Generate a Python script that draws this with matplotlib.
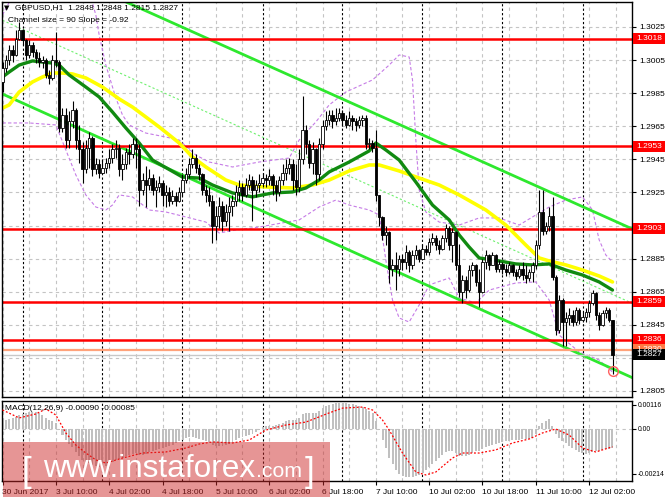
import numpy as np
import matplotlib
matplotlib.use("Agg")
import matplotlib.pyplot as plt
from matplotlib.patches import Rectangle
import matplotlib.transforms as mtransforms

# ---------------- data ----------------
first_open = 1.2992
close = [1.3000, 1.3005, 1.3011, 1.3008, 1.3018, 1.3023, 1.3017, 1.3008, 1.3014, 1.3010,
         1.3006, 1.3004, 1.3005, 1.2996, 1.2994, 1.3005, 1.3004, 1.2964, 1.2972, 1.2957,
         1.2968, 1.2975, 1.2957, 1.2951, 1.2939, 1.2952, 1.2958, 1.2939, 1.2942, 1.2937,
         1.2940, 1.2943, 1.2946, 1.2951, 1.2952, 1.2939, 1.2942, 1.29495, 1.2948, 1.2954,
         1.2951, 1.29265, 1.29325, 1.29295, 1.2934, 1.29265, 1.2928, 1.2931, 1.29235, 1.2925,
         1.2920, 1.2923, 1.2920, 1.2925, 1.29325, 1.2936, 1.2942, 1.2946, 1.2940, 1.2936,
         1.29265, 1.29235, 1.2920, 1.2905, 1.2911, 1.2917, 1.2908, 1.2913, 1.2917, 1.2920,
         1.2925, 1.2928, 1.29235, 1.29295, 1.29325, 1.29265, 1.29295, 1.2931, 1.2934, 1.29325,
         1.2935, 1.29295, 1.2925, 1.29325, 1.2937, 1.2940, 1.2942, 1.29325, 1.2928, 1.2945,
         1.2963, 1.2954, 1.2943, 1.2951, 1.2936, 1.2954, 1.2965, 1.2969, 1.2972, 1.2968,
         1.2970, 1.2973, 1.2969, 1.2966, 1.2970, 1.2968, 1.2966, 1.2969, 1.2970, 1.2954,
         1.2955, 1.2952, 1.29235, 1.2910, 1.2899, 1.2901, 1.2879, 1.2881, 1.2879, 1.2885,
         1.2883, 1.2889, 1.2881, 1.2887, 1.2890, 1.2885, 1.2891, 1.2889, 1.2895, 1.28975,
         1.2893, 1.2891, 1.28975, 1.29035, 1.2893, 1.2901, 1.2881, 1.2865, 1.2872, 1.2866,
         1.2878, 1.2881, 1.2871, 1.2865, 1.2883, 1.2887, 1.2881, 1.2887, 1.2879, 1.2882,
         1.2879, 1.2877, 1.2881, 1.2877, 1.28745, 1.2879, 1.2875, 1.2873, 1.2877, 1.2881,
         1.2893, 1.2913, 1.2902, 1.2905, 1.2911, 1.2874, 1.2842, 1.2860, 1.2847, 1.2849,
         1.2851, 1.2847, 1.2854, 1.2848, 1.2850, 1.2853, 1.2858, 1.2864, 1.2851, 1.2845,
         1.2852, 1.2854, 1.2848, 1.2827]
high = [1.3004, 1.3008, 1.3014, 1.3014, 1.3023, 1.3028, 1.3024, 1.3018, 1.3017, 1.3016,
        1.3012, 1.3010, 1.30075, 1.3006, 1.2999, 1.3008, 1.3022, 1.3005, 1.2976, 1.2976,
        1.2974, 1.2980, 1.2976, 1.2966, 1.29555, 1.2957, 1.29615, 1.2959, 1.2946, 1.2945,
        1.2945, 1.2946, 1.2951, 1.2954, 1.2957, 1.2954, 1.2948, 1.2952, 1.2954, 1.2958,
        1.2958, 1.2954, 1.2937, 1.2941, 1.2939, 1.2936, 1.29325, 1.2935, 1.29325, 1.29295,
        1.2928, 1.29265, 1.2925, 1.2928, 1.2936, 1.2940, 1.2946, 1.2951, 1.2948, 1.2942,
        1.2937, 1.29295, 1.2928, 1.29235, 1.2917, 1.2922, 1.2920, 1.2918, 1.2922, 1.29235,
        1.29295, 1.29325, 1.2931, 1.2934, 1.2936, 1.2935, 1.29325, 1.2936, 1.2937, 1.2936,
        1.2939, 1.2936, 1.29325, 1.2935, 1.2942, 1.2945, 1.2946, 1.2945, 1.2942, 1.2951,
        1.2983, 1.2966, 1.2957, 1.29555, 1.2952, 1.2958, 1.2969, 1.2974, 1.2975, 1.2975,
        1.2976, 1.2976, 1.2975, 1.2972, 1.2974, 1.2972, 1.2970, 1.2971, 1.2972, 1.2972,
        1.2958, 1.2957, 1.2963, 1.29235, 1.2911, 1.2905, 1.2902, 1.2885, 1.2889, 1.2887,
        1.2888, 1.2893, 1.2890, 1.2890, 1.2893, 1.2891, 1.2894, 1.2893, 1.28975, 1.29005,
        1.2899, 1.2896, 1.2899, 1.2906, 1.2905, 1.29035, 1.2902, 1.2894, 1.2875, 1.28745,
        1.2881, 1.2883, 1.2882, 1.2879, 1.2885, 1.2890, 1.2888, 1.2889, 1.2888, 1.2884,
        1.2883, 1.2882, 1.2883, 1.2882, 1.2879, 1.2881, 1.2883, 1.2881, 1.2879, 1.2883,
        1.2896, 1.29265, 1.29265, 1.2907, 1.2916, 1.2922, 1.2875, 1.2863, 1.2861, 1.2853,
        1.2855, 1.2854, 1.2856, 1.2855, 1.2853, 1.2855, 1.2860, 1.2866, 1.2865, 1.2853,
        1.2854, 1.2856, 1.2855, 1.2848]
low = [1.2986, 1.2998, 1.3002, 1.3004, 1.30075, 1.3017, 1.3014, 1.3005, 1.3006, 1.3007,
       1.3003, 1.3001, 1.3000, 1.2994, 1.29905, 1.2993, 1.3001, 1.29615, 1.29615, 1.2952,
       1.2952, 1.2964, 1.2951, 1.2943, 1.2931, 1.2937, 1.2940, 1.2935, 1.2936, 1.2934,
       1.2936, 1.2937, 1.2940, 1.2943, 1.2946, 1.2935, 1.29325, 1.2939, 1.2942, 1.2946,
       1.2940, 1.2917, 1.29235, 1.2916, 1.29265, 1.29235, 1.2916, 1.2925, 1.2917, 1.2916,
       1.2917, 1.2918, 1.2917, 1.2919, 1.2923, 1.2931, 1.2934, 1.2940, 1.2937, 1.29325,
       1.29235, 1.2919, 1.2917, 1.28945, 1.2896, 1.29035, 1.2902, 1.2905, 1.2902, 1.2911,
       1.2917, 1.2920, 1.2920, 1.2922, 1.29265, 1.2908, 1.2922, 1.2925, 1.2928, 1.2928,
       1.29295, 1.29235, 1.2920, 1.2923, 1.29295, 1.29325, 1.2936, 1.29265, 1.29235, 1.2925,
       1.2942, 1.2948, 1.2940, 1.2936, 1.29295, 1.29325, 1.2951, 1.2963, 1.2966, 1.2964,
       1.2966, 1.2968, 1.2965, 1.2964, 1.2965, 1.2963, 1.2962, 1.2964, 1.2965, 1.2951,
       1.2951, 1.29495, 1.2920, 1.2905, 1.2896, 1.2893, 1.2870, 1.28745, 1.2866, 1.28745,
       1.2878, 1.2879, 1.2877, 1.2879, 1.2885, 1.2883, 1.2884, 1.2887, 1.2887, 1.2893,
       1.2890, 1.2888, 1.2890, 1.2895, 1.2890, 1.2883, 1.2878, 1.2862, 1.2858, 1.2861,
       1.2865, 1.28745, 1.28685, 1.2856, 1.2864, 1.2879, 1.2878, 1.2881, 1.2877, 1.2877,
       1.2876, 1.28745, 1.2876, 1.28745, 1.2872, 1.2873, 1.2872, 1.2870, 1.28715, 1.2871,
       1.2879, 1.2891, 1.2899, 1.2900, 1.2902, 1.2872, 1.2839, 1.2840, 1.2832, 1.2832,
       1.2845, 1.2844, 1.2845, 1.28455, 1.2847, 1.2847, 1.2850, 1.2857, 1.2848, 1.2842,
       1.2844, 1.2849, 1.2847, 1.2815]

# moving averages, sampled along the bars
ma_green_bars = [0, 2, 5, 9, 12, 15, 17, 20, 25, 29, 33, 37, 41, 45, 54, 59, 63, 69, 75, 81, 87,
                 91, 95, 98, 104, 110, 112, 115, 119, 124, 129, 134, 137, 140, 143, 149, 154,
                 159, 164, 169, 174, 179, 183]
ma_green = [1.29948, 1.29978, 1.3002, 1.30045, 1.30038, 1.30032, 1.3002, 1.2996, 1.29887,
            1.29827, 1.29736, 1.2964, 1.29549, 1.29446, 1.29343, 1.29337, 1.29295, 1.29247,
            1.29223, 1.29247, 1.29253, 1.29277, 1.29325, 1.29374, 1.29434, 1.29501, 1.29549,
            1.29507, 1.29446, 1.29313, 1.29174, 1.29084, 1.28993, 1.2892, 1.28854, 1.28836,
            1.28818, 1.28812, 1.28818, 1.28781, 1.28751, 1.28709, 1.2866]
ma_yellow_bars = [0, 2, 5, 9, 12, 15, 18, 21, 25, 30, 35, 39, 43, 47, 53, 57, 61, 67, 71, 79,
                  87, 93, 98, 104, 110, 113, 119, 125, 131, 137, 145, 151, 157, 161, 164,
                  169, 174, 179, 183]
ma_yellow = [1.2976, 1.29779, 1.29857, 1.29918, 1.29948, 1.29972, 1.29972, 1.29966, 1.29942,
             1.29887, 1.29815, 1.29766, 1.29706, 1.29646, 1.29549, 1.29464, 1.29404, 1.29325,
             1.29295, 1.29283, 1.29277, 1.29295, 1.29325, 1.2938, 1.29416, 1.29416, 1.2938,
             1.29337, 1.29295, 1.29235, 1.29144, 1.29053, 1.28932, 1.28854, 1.28836, 1.28812,
             1.28781, 1.28745, 1.28709]

# envelope bands (dashed violet)
band_up_bars = [0, 4, 8, 17, 25, 28, 29, 31, 34, 36, 38, 43, 49, 53, 58, 62, 69, 77, 86, 89,
                94, 98, 103, 111, 116, 119, 122, 123, 124, 125, 127, 131, 137, 143, 149, 155,
                160, 164, 169, 174, 177, 179, 181, 183]
band_up = [1.30323, 1.30474, 1.30595, 1.30655, 1.30534, 1.30323, 1.30202, 1.3002, 1.29821,
           1.29718, 1.29658, 1.29609, 1.29585, 1.29567, 1.29476, 1.29434, 1.29404, 1.29434,
           1.29458, 1.29567, 1.29676, 1.29779, 1.29857, 1.2993, 1.3002, 1.30081, 1.30069,
           1.2993, 1.29567, 1.29265, 1.29132, 1.29071, 1.29053, 1.29096, 1.29096, 1.29053,
           1.29114, 1.29162, 1.29204, 1.29223, 1.29144, 1.28963, 1.28872, 1.2883]
band_lo_bars = [0, 8, 16, 19, 22, 25, 28, 31, 33, 35, 39, 44, 49, 55, 61, 65, 70, 77, 89, 95,
                100, 104, 110, 113, 115, 117, 119, 122, 125, 128, 134, 137, 142, 146, 154,
                160, 164, 167, 173, 179, 183]
band_lo = [1.2967, 1.2967, 1.29658, 1.29507, 1.29356, 1.29235, 1.29162, 1.29144, 1.29174,
           1.29235, 1.29223, 1.29144, 1.29132, 1.29102, 1.29071, 1.29005, 1.29023, 1.29041,
           1.29084, 1.29162, 1.29204, 1.29174, 1.29144, 1.29114, 1.28842, 1.2860, 1.28491,
           1.28467, 1.2857, 1.28691, 1.28733, 1.28612, 1.28582, 1.2866, 1.28703, 1.28709,
           1.2860, 1.28388, 1.28286, 1.28237, 1.28165]

# regression channel (two anchor bars)
channel_bars = [0, 189]
channel_upper = [1.30736, 1.29029]
channel_lower = [1.29845, 1.28130]

levels_red = [1.3018, 1.2953, 1.2903, 1.2859, 1.2836]
level_orange = 1.2830
last_price = 1.2827
price_ticks = [1.3025, 1.3005, 1.2985, 1.2965, 1.2945, 1.2925, 1.2905, 1.2885, 1.2865, 1.2845,
               1.2825, 1.2805]
hidden_price_ticks = [1.2905, 1.2825]   # covered by the price boxes in the original

macd_hist = [0.00038, 0.00043, 0.00048, 0.00053, 0.00057, 0.00067, 0.00072, 0.00077, 0.00081, 0.00081,
             0.00081, 0.00077, 0.00067, 0.00053, 0.00043, 0.00038, 0.00029, -0.00005, -0.00029, -0.00053,
             -0.00072, -0.00086, -0.00110, -0.00129, -0.00148, -0.00158, -0.00163, -0.00172, -0.00177, -0.00182,
             -0.00182, -0.00177, -0.00172, -0.00158, -0.00148, -0.00144, -0.00139, -0.00129, -0.00124, -0.00120,
             -0.00115, -0.00124, -0.00124, -0.00120, -0.00110, -0.00105, -0.00100, -0.00096, -0.00091, -0.00086,
             -0.00081, -0.00077, -0.00067, -0.00057, -0.00053, -0.00043, -0.00038, -0.00038, -0.00043, -0.00048,
             -0.00053, -0.00057, -0.00062, -0.00077, -0.00081, -0.00081, -0.00081, -0.00077, -0.00072, -0.00062,
             -0.00053, -0.00043, -0.00038, -0.00033, -0.00029, -0.00024, -0.00014, -0.00003, 0.00010, 0.00014,
             0.00014, 0.00014, 0.00019, 0.00024, 0.00029, 0.00038, 0.00043, 0.00043, 0.00043, 0.00053,
             0.00072, 0.00077, 0.00077, 0.00077, 0.00077, 0.00086, 0.00100, 0.00110, 0.00115, 0.00120,
             0.00124, 0.00124, 0.00124, 0.00124, 0.00120, 0.00120, 0.00115, 0.00110, 0.00105, 0.00096,
             0.00086, 0.00077, 0.00038, -0.00005, -0.00053, -0.00091, -0.00139, -0.00167, -0.00196, -0.00215,
             -0.00225, -0.00230, -0.00230, -0.00230, -0.00225, -0.00220, -0.00211, -0.00196, -0.00182, -0.00167,
             -0.00153, -0.00139, -0.00124, -0.00110, -0.00105, -0.00105, -0.00115, -0.00129, -0.00129, -0.00129,
             -0.00124, -0.00115, -0.00105, -0.00105, -0.00096, -0.00086, -0.00081, -0.00077, -0.00072, -0.00067,
             -0.00062, -0.00057, -0.00057, -0.00053, -0.00053, -0.00053, -0.00048, -0.00048, -0.00048, -0.00043,
             -0.00024, 0.00014, 0.00029, 0.00038, 0.00048, 0.00014, -0.00024, -0.00043, -0.00057, -0.00067,
             -0.00081, -0.00091, -0.00100, -0.00110, -0.00115, -0.00120, -0.00115, -0.00110, -0.00105, -0.00105,
             -0.00100, -0.00096, -0.00096, -0.00090]
signal_bars = [0, 5, 10, 13, 16, 19, 22, 25, 28, 31, 36, 42, 49, 55, 59, 63, 69, 74, 79, 85, 91,
               98, 102, 108, 111, 114, 116, 120, 124, 127, 130, 135, 138, 143, 148, 153, 158,
               162, 166, 170, 174, 178, 183]
signal = [0.00091, 0.00053, 0.00072, 0.00096, 0.00067, -0.00019, -0.00077, -0.00115, -0.00148,
          -0.00163, -0.00139, -0.00115, -0.00110, -0.00091, -0.00072, -0.00062, -0.00067, -0.00053,
          -0.00005, 0.00019, 0.00033, 0.00077, 0.00100, 0.00105, 0.00091, 0.00043, -0.00005,
          -0.00115, -0.00206, -0.00220, -0.00206, -0.00139, -0.00115, -0.00115, -0.00100, -0.00067,
          -0.00048, -0.00019, 0.0, -0.00029, -0.00091, -0.00110, -0.00085]
macd_ticks = [0.00116, 0.0, -0.00214]
macd_tick_labels = ["0.00116", "0.00", "-0.00214"]

time_label_bars = [0, 16, 32, 48, 64, 80, 96, 112, 128, 144, 160, 176]
time_labels = ["30 Jun 2017", "3 Jul 10:00", "4 Jul 02:00", "4 Jul 18:00", "5 Jul 10:00",
               "6 Jul 02:00", "6 Jul 18:00", "7 Jul 10:00", "10 Jul 02:00", "10 Jul 18:00",
               "11 Jul 10:00", "12 Jul 02:00"]
day_start_bars = [6, 30, 54, 78, 102, 126, 150, 174]
grid_step_bars = 8

# ---------------- figure ----------------
W, H = 665, 499
fig = plt.figure(figsize=(W / 100, H / 100), dpi=100)
fig.patch.set_facecolor("white")
FONT = ["Liberation Sans", "DejaVu Sans"]
plt.rcParams["font.family"] = FONT


def fx(px):
    return px / W


def fy(py):
    return 1 - py / H


ax = fig.add_axes([fx(2), fy(397), fx(632) - fx(2), fy(2) - fy(397)])
axm = fig.add_axes([fx(2), fy(481), fx(632) - fx(2), fy(401) - fy(481)])

XMIN, XMAX = -0.15, 188.85
for a in (ax, axm):
    a.set_xlim(XMIN, XMAX)
    for s in a.spines.values():
        s.set_color("black")
        s.set_linewidth(1.0)
ax.set_ylim(1.280137, 1.304011)
axm.set_ylim(-0.00249, 0.00134)

grid_kw = dict(color="#c4c4c4", lw=0.8, dashes=(3, 3), zorder=0.5)
sep_kw = dict(color="black", lw=0.8, dashes=(2, 2), zorder=0.6)
for b in range(0, 190, grid_step_bars):
    ax.axvline(b, **grid_kw)
    axm.axvline(b, **grid_kw)
for b in day_start_bars:
    ax.axvline(b, **sep_kw)
    axm.axvline(b, **sep_kw)
for p in price_ticks:
    ax.axhline(p, **grid_kw)
axm.axhline(0.0, **grid_kw)

# bands
band_kw = dict(color="#c57be6", lw=0.8, dashes=(3, 2), zorder=1)
ax.plot(band_up_bars, band_up, **band_kw)
ax.plot(band_lo_bars, band_lo, **band_kw)

# channel
ax.plot(channel_bars, channel_upper, color="#2ee82e", lw=2.0, zorder=2)
ax.plot(channel_bars, channel_lower, color="#2ee82e", lw=2.0, zorder=2)
mid = [(u + l) / 2 for u, l in zip(channel_upper, channel_lower)]
ax.plot(channel_bars, mid, color="#6ef06e", lw=0.8, dashes=(2, 2), zorder=2)

# horizontal levels
for lv in levels_red:
    ax.axhline(lv, color="#ff0000", lw=1.8, zorder=2.2)
ax.axhline(level_orange, color="#ffa27a", lw=1.6, zorder=2.2)
ax.axhline(last_price, color="#c8c8c8", lw=1.0, zorder=2.2)

# moving averages
ax.plot(ma_yellow_bars, ma_yellow, color="#ffff00", lw=2.6, zorder=2.5, solid_capstyle="round")
ax.plot(ma_green_bars, ma_green, color="#118a11", lw=2.4, zorder=2.6, solid_capstyle="round")

# candles
c = np.array(close)
hi = np.array(high)
lo = np.array(low)
o = np.r_[first_open, c[:-1]]
idx = np.arange(len(c))
up = c >= o
ax.vlines(idx, lo, hi, color="black", lw=0.8, zorder=3)
bot = np.minimum(o, c)
hgt = np.maximum(np.abs(c - o), 0.00004)
ax.bar(idx[up], hgt[up], bottom=bot[up], width=0.72, facecolor="white",
       edgecolor="black", linewidth=0.6, zorder=4)
ax.bar(idx[~up], hgt[~up], bottom=bot[~up], width=0.72, facecolor="black",
       edgecolor="black", linewidth=0.6, zorder=4)
ax.plot([idx[-1]], [lo[-1] + 0.0002], marker="o", ms=7, mfc="none", mec="#ff6060",
        mew=1.0, zorder=5)

# axes ticks
ax.set_xticks([])
ax.yaxis.tick_right()
ax.set_yticks(price_ticks)
ax.set_yticklabels(["" if p in hidden_price_ticks else f"{p:.4f}" for p in price_ticks])
ax.tick_params(axis="y", direction="out", length=3, width=0.8, pad=2, labelsize=6)

axm.yaxis.tick_right()
axm.set_yticks(macd_ticks)
axm.set_yticklabels(macd_tick_labels)
axm.tick_params(axis="y", direction="out", length=3, width=0.8, pad=1.0, labelsize=4.9)
axm.set_xticks(time_label_bars)
axm.set_xticklabels(time_labels, ha="left")
axm.tick_params(axis="x", direction="out", length=3, width=0.8, pad=3, labelsize=6)

# MACD
axm.bar(np.arange(len(macd_hist)), macd_hist, width=0.6, color="#c0c0c0", zorder=2)
axm.plot(signal_bars, signal, color="#ff0000", lw=0.9, dashes=(1.5, 1.5), zorder=3)

# price label boxes on the right scale
tr = mtransforms.blended_transform_factory(fig.transFigure, ax.transData)
box_h = 11 / 16545.0


def price_box(level, face, text_color="white"):
    ax.add_patch(Rectangle((fx(633), level - box_h / 2), fx(665) - fx(633), box_h,
                           transform=tr, facecolor=face, edgecolor="none",
                           clip_on=False, zorder=6))
    ax.text(fx(636), level, f"{level:.4f}", transform=tr, ha="left", va="center",
            fontsize=6, color=text_color, clip_on=False, zorder=7)


for lv in levels_red:
    price_box(lv, "#ff0000")
price_box(level_orange, "#ff7a45")
price_box(last_price, "black")

# header texts
fig.text(fx(4), fy(8), "\u25BC", fontsize=5, va="center", ha="left", family="DejaVu Sans")
fig.text(fx(15), fy(8), "GBPUSD,H1  1.2848 1.2848 1.2815 1.2827", fontsize=6,
         va="center", ha="left")
fig.text(fx(8), fy(20), "Channel size = 90 Slope = -0.92", fontsize=6, va="center", ha="left")
fig.text(fx(5), fy(408), "MACD(12,26,9) -0.00090 -0.00085", fontsize=6, va="center", ha="left")

# watermark
fig.patches.append(Rectangle((fx(3), fy(497)), fx(330) - fx(3), (497 - 442) / H,
                             transform=fig.transFigure, facecolor="#cc2828", alpha=0.49,
                             edgecolor="none", zorder=10))
wm = ["Liberation Sans", "DejaVu Sans"]
wm_kw = dict(color="white", family=wm, va="baseline", ha="left", zorder=11)
fig.canvas.draw()
rend = fig.canvas.get_renderer()
t_main = fig.text(fx(43), fy(477), "www.instaforex", fontsize=27, **wm_kw)
bb = t_main.get_window_extent(rend)
t_main.set_fontsize(27 * 212.0 / bb.width)
bb = t_main.get_window_extent(rend)
t_com = fig.text((bb.x1 + 1) / W, fy(477), ".com", fontsize=17, **wm_kw)
bbc = t_com.get_window_extent(rend)
t_com.set_fontsize(17 * 46.0 / bbc.width)
fig.text(fx(21), fy(482), "[", fontsize=25, **wm_kw)
fig.text(fx(305), fy(482), "]", fontsize=25, **wm_kw)

fig.savefig("out.png", dpi=100)
